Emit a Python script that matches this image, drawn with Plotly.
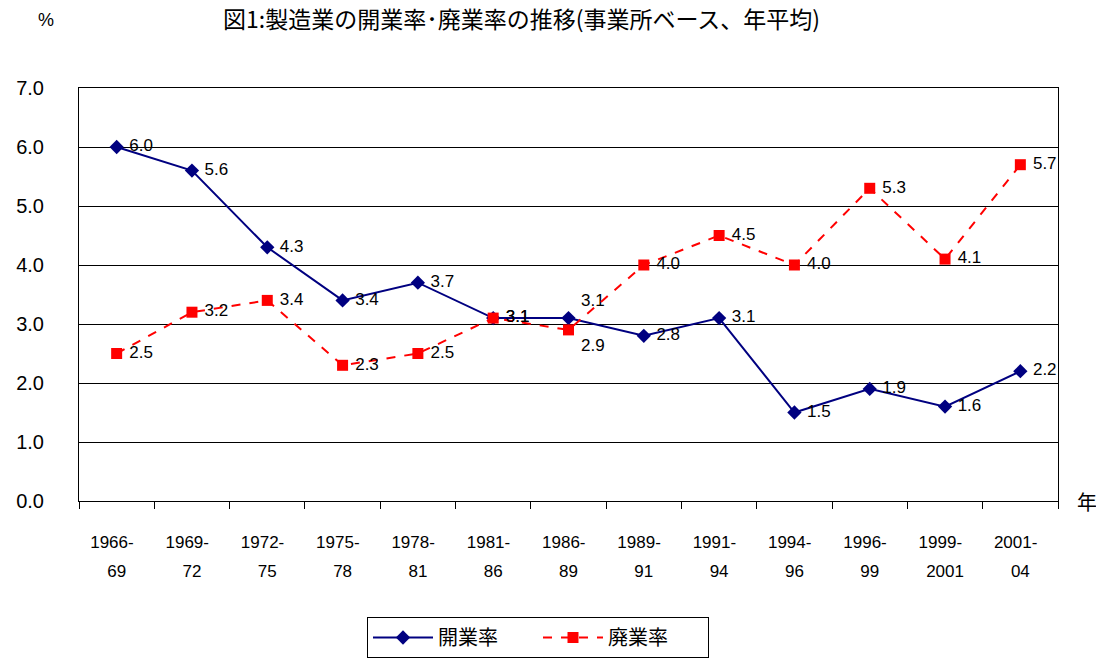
import numpy as np
import plotly.graph_objects as go

periods_top = ["1966-", "1969-", "1972-", "1975-", "1978-", "1981-", "1986-",
               "1989-", "1991-", "1994-", "1996-", "1999-", "2001-"]
periods_bottom = ["69", "72", "75", "78", "81", "86", "89",
                  "91", "94", "96", "99", "2001", "04"]
open_rate = [6.0, 5.6, 4.3, 3.4, 3.7, 3.1, 3.1, 2.8, 3.1, 1.5, 1.9, 1.6, 2.2]
close_rate = [2.5, 3.2, 3.4, 2.3, 2.5, 3.1, 2.9, 4.0, 4.5, 4.0, 5.3, 4.1, 5.7]
y_ticks = [0, 1, 2, 3, 4, 5, 6, 7]
title_text = "図1:製造業の開業率･廃業率の推移(事業所ベース、年平均)"

x = np.arange(len(periods_top))
FONT = "Liberation Sans, Arial, Noto Sans CJK JP"
CJK = "Noto Sans CJK JP, Liberation Sans"

W, H = 1096, 653
L, R, T, B = 71, 46, 80, 160
plot_h = H - T - B
plot_w = W - L - R
NB = "\u00a0"

open_pos = ["middle right"] * len(x)
open_pos[6] = "top right"
close_pos = ["middle right"] * len(x)
close_pos[6] = "bottom right"

fig = go.Figure()
fig.add_trace(go.Scatter(
    x=x, y=open_rate, name="開業率", mode="lines+markers+text",
    line=dict(color="#000080", width=2),
    marker=dict(symbol="diamond", size=11, color="#000080"),
    text=[f"{NB}{v:.1f}" for v in open_rate], textposition=open_pos,
    textfont=dict(family=FONT, size=17, color="black"),
))
fig.add_trace(go.Scatter(
    x=x, y=close_rate, name="廃業率", mode="lines+markers+text",
    line=dict(color="#FF0000", width=2, dash="dash"),
    marker=dict(symbol="square", size=11, color="#FF0000"),
    text=[f"{NB}{v:.1f}" for v in close_rate], textposition=close_pos,
    textfont=dict(family=FONT, size=17, color="black"),
))
# invisible trace to establish second-line tick axis
fig.add_trace(go.Scatter(x=x, y=open_rate, xaxis="x2", mode="markers",
                         marker=dict(opacity=0), showlegend=False, hoverinfo="skip"))

fig.update_layout(
    width=W, height=H,
    paper_bgcolor="white", plot_bgcolor="white",
    margin=dict(l=L, r=R, t=T, b=B, autoexpand=False),
    font=dict(family=FONT, color="black"),
    xaxis=dict(range=[-0.5, len(x) - 0.5], tickvals=x,
               ticktext=[t + NB + NB for t in periods_top],
               ticks="", showgrid=False, zeroline=False, automargin=False,
               showline=True, linecolor="black", linewidth=1, mirror=True,
               tickfont=dict(family=FONT, size=17), ticklabelstandoff=26,
               minor=dict(ticks="outside", ticklen=7, tickcolor="black",
                          tick0=-0.5, dtick=1, showgrid=False)),
    xaxis2=dict(overlaying="x", side="bottom", anchor="y", matches="x",
                tickvals=x, ticktext=periods_bottom, ticks="", showgrid=False,
                zeroline=False, showline=False, automargin=False,
                tickfont=dict(family=FONT, size=17), ticklabelstandoff=58),
    yaxis=dict(range=[0, 7], tickvals=y_ticks,
               ticktext=[f"{v:.1f}" for v in y_ticks],
               showgrid=True, gridcolor="black", gridwidth=1, automargin=False,
               zeroline=False, showline=True, linecolor="black", linewidth=1,
               mirror=True, ticks="", tickfont=dict(family=FONT, size=20),
               ticklabelstandoff=30),
    legend=dict(orientation="h", x=(530 - L) / plot_w, xanchor="center",
                y=-(609 - (T + plot_h)) / plot_h, yanchor="top",
                bordercolor="black", borderwidth=1, bgcolor="white",
                font=dict(family=CJK, size=20), itemwidth=60,
                entrywidth=95, entrywidthmode="pixels"),
    showlegend=True,
)
fig.add_annotation(text=title_text, xref="paper", yref="paper",
                   x=(513 - L) / plot_w, y=1 + (T - 10) / plot_h,
                   showarrow=False, xanchor="center", yanchor="middle",
                   font=dict(family=CJK, size=23, color="black"))
fig.add_annotation(text="%", xref="paper", yref="paper", x=(38 - L) / plot_w,
                   y=1 + (T - 12) / plot_h, showarrow=False, xanchor="center",
                   yanchor="middle", font=dict(family=FONT, size=18))
fig.add_annotation(text="年", xref="paper", yref="paper",
                   x=1 + (1079 - (W - R)) / plot_w,
                   y=0, showarrow=False, xanchor="center", yanchor="middle",
                   font=dict(family=CJK, size=20))

fig.write_html("out.html")
